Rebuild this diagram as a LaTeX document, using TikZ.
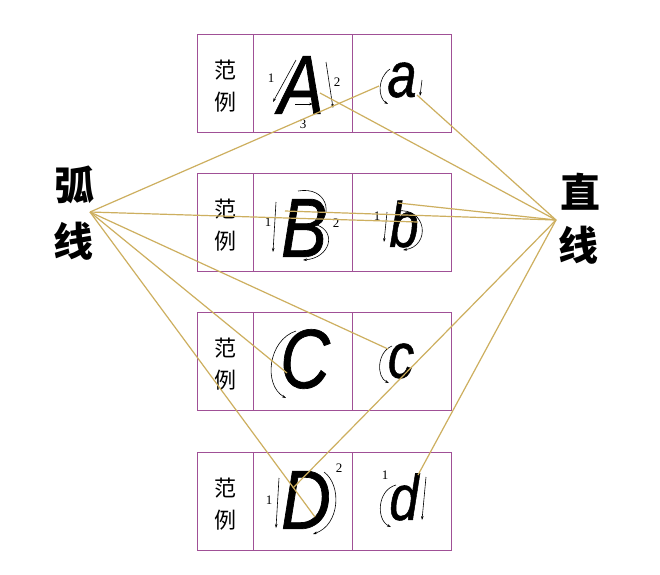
\documentclass[tikz,border=0pt]{standalone}
\usepackage{fontspec}
\setmainfont{Liberation Serif}
\newfontfamily\cjk{Noto Sans CJK SC}
\newfontfamily\letterfont[FakeStretch=0.82,FakeBold=0.8]{Liberation Sans}
\usetikzlibrary{arrows.meta}
\definecolor{boxc}{RGB}{160,80,150}
\definecolor{linkc}{RGB}{205,175,95}
\begin{document}
\begin{tikzpicture}[x=1pt,y=-1pt,
  cell/.style={draw=boxc,line width=1.2pt,minimum height=98pt,inner sep=0pt,anchor=north west},
  narrow/.style={cell,minimum width=56pt},
  wide/.style={cell,minimum width=99pt},
  fanli/.style={font=\cjk\fontsize{22}{22}\selectfont,inner sep=0pt},
  capl/.style={font=\letterfont\itshape\fontsize{84}{84}\selectfont,inner sep=0pt},
  lowl/.style={font=\letterfont\itshape\fontsize{64}{64}\selectfont,inner sep=0pt},
  side/.style={font=\cjk\bfseries\fontsize{40}{40}\selectfont,inner sep=0pt},
  num/.style={font=\fontsize{13}{13}\selectfont,inner sep=0pt},
  sarrow/.style={line width=0.6pt,-{Stealth[length=4pt,width=2.6pt]}},
  link/.style={draw=linkc,line width=1.2pt}]
\useasboundingbox (0,0) rectangle (660,574);
\fill[white] (0,0) rectangle (660,574);

% grid cells
\foreach \r/\t in {1/34,2/173,3/312,4/452}{
  \node[narrow] (r\r a) at (197,\t) {};
  \node[wide] (r\r b) at (253,\t) {};
  \node[wide] (r\r c) at (352,\t) {};
  \node[fanli] (fan\r) at (225,\t+36) {范};
  \node[fanli] (li\r) at (225,\t+68) {例};
}

% side labels
\node[side] (hu) at (74,185) {弧};
\node[side] (xianL) at (73,241) {线};
\node[side] (zhi) at (580,192) {直};
\node[side] (xianR) at (578,245) {线};

% letters
\node[capl] (A) at (301,85) {A};
\node[lowl] (a) at (402,80) {a};
\node[capl] (B) at (304,228) {B};
\node[lowl] (b) at (404,224) {b};
\node[capl] (C) at (305,359) {C};
\node[lowl] (c) at (401,361) {c};
\node[capl] (D) at (306,500) {D};
\node[lowl] (d) at (404,497) {d};

% stroke order marks
\draw[sarrow] (296,60) -- (273,102);
\node[num] (nA1) at (271,78) {1};
\draw[sarrow] (326,62) -- (333,108);
\node[num] (nA2) at (337,82) {2};
\draw[sarrow] (295,104) -- (313,104);
\node[num] (nA3) at (303,124) {3};
\draw[sarrow] (390,69) .. controls (377,78) and (378,98) .. (388,104);
\draw[sarrow] (422,80) -- (420,96);

\draw[sarrow] (276,202) -- (273,252);
\node[num] (nB1) at (268,222) {1};
\draw[sarrow] (298,191) .. controls (327,186) and (334,215) .. (317,225) .. controls (337,232) and (330,258) .. (303,260);
\node[num] (nB2) at (336,223) {2};
\draw[sarrow] (387,212) -- (384,242);
\node[num] (nb1) at (377,216) {1};
\draw[sarrow] (397,211) .. controls (427,207) and (431,246) .. (403,250);

\draw[sarrow] (296,331) .. controls (268,340) and (263,385) .. (286,398);
\draw[sarrow] (392,346) .. controls (377,352) and (376,377) .. (389,383);

\draw[sarrow] (279,478) -- (276,528);
\node[num] (nD1) at (269,500) {1};
\draw[sarrow] (324,472) .. controls (342,485) and (340,525) .. (313,534);
\node[num] (nD2) at (339,468) {2};
\node[num] (nd1) at (385,475) {1};
\draw[sarrow] (396,485) .. controls (377,490) and (376,520) .. (391,527);
\draw[sarrow] (426,477) -- (422,520);

% hubs and link end points
\coordinate (L) at (90,212);
\coordinate (R) at (556,220);
\coordinate (La) at (379,86);
\coordinate (Lb) at (418,222);
\coordinate (Lc) at (388,349);
\coordinate (LC) at (287,373);
\coordinate (LD) at (315,517);
\coordinate (RA) at (320,93);
\coordinate (Ra) at (417,95);
\coordinate (Rb) at (398,203);
\coordinate (RB) at (285,211);
\coordinate (RD) at (293,488);
\coordinate (Rd) at (418,475);

\foreach \e in {La,Lb,Lc,LC,LD}{\draw[link] (L) -- (\e);}
\foreach \e in {RA,Ra,Rb,RB,RD,Rd}{\draw[link] (R) -- (\e);}
\end{tikzpicture}
\end{document}
